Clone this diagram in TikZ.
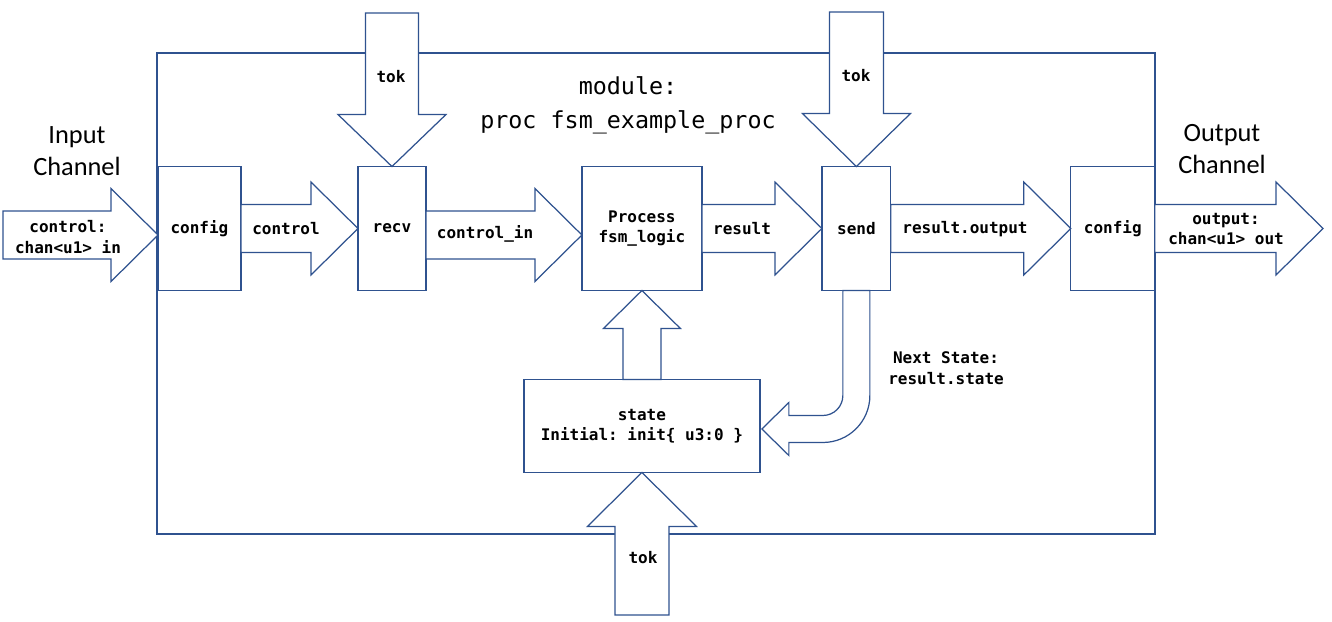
\documentclass[tikz,border=0pt]{standalone}
\usepackage{fontspec}
\setmainfont{Carlito}
\setmonofont{DejaVu Sans Mono}
\usepackage{tikz}
\usetikzlibrary{positioning,calc}
\definecolor{edgeblue}{HTML}{2F528F}
\newcommand{\lblfont}{\ttfamily\bfseries\fontsize{9.1}{11.6}\selectfont}
\tikzset{
  blkbox/.style={rectangle, draw=edgeblue, line width=0.7pt, fill=white, inner sep=0pt, outer sep=0pt,
                 align=center, font=\lblfont, minimum height=2.48cm},
  modframe/.style={rectangle, draw=edgeblue, line width=0.7pt, inner sep=0pt, outer sep=0pt},
  fatarr/.style={draw=edgeblue, line width=0.7pt, fill=white, line join=miter},
  lbl/.style={align=center, inner sep=0pt, font=\lblfont},
  chan/.style={align=center, inner sep=0pt, font=\fontsize{15}{18}\selectfont},
}
% block arrow: from, to, shaft half width, head half width, head length
\newcommand{\fatarrow}[5]{%
  \coordinate (hb) at ($(#2)!#5!(#1)$);
  \draw[fatarr] ($(#1)!#3!90:(#2)$) -- ($(hb)!#3!90:(#2)$) -- ($(hb)!#4!90:(#2)$) -- (#2)
    -- ($(hb)!#4!-90:(#2)$) -- ($(hb)!#3!-90:(#2)$) -- ($(#1)!#3!-90:(#2)$) -- cycle;
}

\begin{document}
\begin{tikzpicture}[x=0.02cm, y=-0.02cm, node distance=2.34cm]
  \useasboundingbox (0,0) rectangle (1332,622);
  \node[modframe, minimum width=19.96cm, minimum height=9.62cm] (modul) at (656,293.5) {};
  \node[chan] (inchan) at (77,151) {Input\\Channel};
  \node[chan] (outchan) at (1222,149) {Output\\Channel};
  \node[align=center, inner sep=0pt, font=\ttfamily\fontsize{13.3}{19.3}\selectfont] (modname) at (628,105)
    {module:\\proc fsm\_example\_proc};

  \node[blkbox, minimum width=1.66cm] (cfgin) at (199.5,228.5) {config};
  \node[blkbox, minimum width=1.36cm, right=of cfgin] (recv) {recv};
  \node[blkbox, minimum width=2.40cm, right=3.12cm of recv] (proc) {Process\\fsm\_logic};
  \node[blkbox, minimum width=1.38cm, right=2.40cm of proc] (send) {send};
  \node[blkbox, minimum width=1.68cm, right=3.60cm of send] (cfgout) {config};
  \node[blkbox, minimum width=4.72cm, minimum height=1.86cm, below=1.78cm of proc] (state)
    {state\\Initial: init\{ u3:0 \}};

  \coordinate (inS) at (3,235);
  \coordinate (inE) at ($(cfgin.west)+(0,6.5)$);
  \coordinate (ciS) at ($(recv.east)+(0,6.5)$);
  \coordinate (ciE) at ($(proc.west)+(0,6.5)$);
  \coordinate (outE) at (1323,228.5);
  \coordinate (tokA) at (392,13);
  \coordinate (tokB) at (856.5,12);
  \coordinate (tokC) at (642,615);

  \fatarrow{inS}{inE}{0.48cm}{0.93cm}{0.94cm}
  \fatarrow{cfgin.east}{recv.west}{0.48cm}{0.93cm}{0.94cm}
  \fatarrow{ciS}{ciE}{0.48cm}{0.93cm}{0.94cm}
  \fatarrow{proc.east}{send.west}{0.48cm}{0.93cm}{0.94cm}
  \fatarrow{send.east}{cfgout.west}{0.48cm}{0.93cm}{0.94cm}
  \fatarrow{cfgout.east}{outE}{0.48cm}{0.93cm}{0.94cm}
  \fatarrow{tokA}{recv.north}{0.53cm}{1.08cm}{1.04cm}
  \fatarrow{tokB}{send.north}{0.54cm}{1.08cm}{1.06cm}
  \fatarrow{state.north}{proc.south}{0.38cm}{0.77cm}{0.76cm}
  \fatarrow{tokC}{state.south}{0.54cm}{1.09cm}{1.08cm}

  % next state loops back into state
  \draw[fatarr] ($(send.south)+(-13.5,0)$) -- ++(0,105) arc[start angle=0, end angle=-90, radius=0.4cm]
    -- ++(-34,0) -- ++(0,-13) -- ++(-27,26.5) -- ++(27,26.5) -- ++(0,-13) -- ++(34,0)
    arc[start angle=-90, end angle=0, radius=0.94cm] -- ($(send.south)+(13.5,0)$) -- cycle;

  \node[lbl] (inlbl) at (68,237) {control:\\chan<u1> in};
  \node[lbl] (ctrllbl) at (286,229) {control};
  \node[lbl] (cilbl) at (485,234) {control\_in};
  \node[lbl] (reslbl) at (742,229) {result};
  \node[lbl] (routlbl) at (965,229) {result.output};
  \node[lbl] (outlbl) at (1226,229) {output:\\chan<u1> out};
  \node[lbl] (tokAlbl) at (391,77) {tok};
  \node[lbl] (tokBlbl) at (856,76) {tok};
  \node[lbl] (tokClbl) at (643,558) {tok};
  \node[lbl] (nextlbl) at (946,368) {Next State:\\result.state};
\end{tikzpicture}
\end{document}
